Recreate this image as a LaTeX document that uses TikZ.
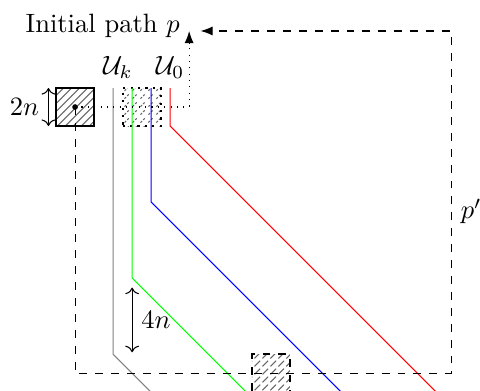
\documentclass[tikz,border=0pt]{standalone}
\usepackage{amsmath,amssymb}
\usepackage{xcolor}
\usepackage{tikz}
\usetikzlibrary{positioning,arrows.meta,patterns,calc}

\begin{document}
\begin{tikzpicture}[x=0.252cm,y=0.252cm,
  hatchbox/.style={pattern=north east lines,pattern color=black!60,draw,thick,minimum size=0.504cm,inner sep=0pt},
  walk/.style={line width=0.4pt},
  trail/.style={dashed,-{Latex[length=1.6mm,width=1.2mm]}},
  guide/.style={dotted,-{Latex[length=1.6mm,width=1.2mm]}},
  dim/.style={<->},
]
\useasboundingbox (-3.95,-14.9) rectangle (21.3,5.63);
\clip (-3.95,-14.9) rectangle (21.3,5.63);
\node[hatchbox] (start) at (0,0) {};
\node[hatchbox,dotted] (win) at (3.5,0) {};
\node[hatchbox,dashed] (hit) at (10.3,-14) {};
\coordinate (turn) at (6,0);
\coordinate (p) at (6,4);
\coordinate (down) at (0,-14);
\coordinate (corner) at (19.8,-14);
\coordinate (top) at (19.8,4);
\coordinate (pend) at (6.6,4);
\draw[walk,gray] (2,1) -- (2,-13) -- (4,-15);
\draw[walk,green] (3,1) -- (3,-9) -- (9,-15);
\draw[walk,blue] (4,1) -- (4,-5) -- (14,-15);
\draw[walk,red] (5,1) -- (5,-1) -- (19,-15);
\fill (start.center) circle (0.15);
\draw[guide] (start.center) -- (turn) -- (p);
\draw[trail] (start.center) -- (down) -- (corner) -- (top) -- (pend);
\coordinate (a2) at (-1.4,1);
\coordinate (b2) at (-1.4,-1);
\draw[dim] (a2) -- (b2) node[midway,left] (twon) {$2n$};
\coordinate (a4) at (3,-9.5);
\coordinate (b4) at (3,-12.9);
\draw[dim] (a4) -- (b4) node[midway,right] (fourn) {$4n$};
\node[above] (uk) at (2.25,1) {$\mathcal{U}_k$};
\node[above] (u0) at (5,1) {$\mathcal{U}_0$};
\node[left] (init) at (6,4.25) {Initial path $p$};
\node[right] (pp) at (19.8,-5.5) {$p'$};
\end{tikzpicture}
\end{document}
